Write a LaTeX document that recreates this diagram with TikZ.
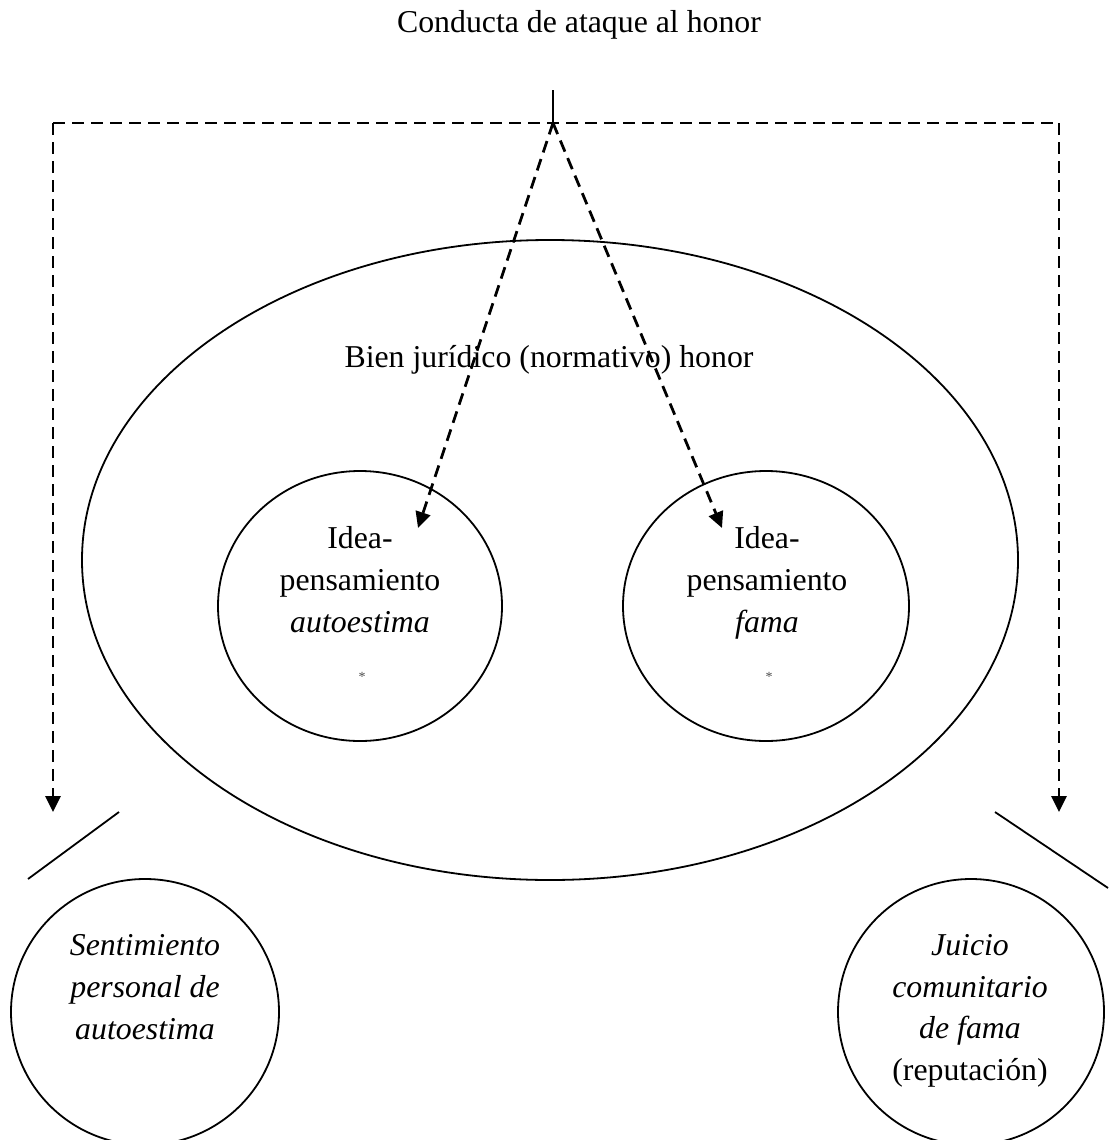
\documentclass[tikz,border=0pt]{standalone}
\usepackage{fontspec}
\setmainfont{Liberation Serif}
\usetikzlibrary{arrows.meta,shapes.geometric}
\tikzset{
  txt/.style={anchor=base, inner sep=0pt, font=\fontsize{31.8}{42}\selectfont},
  itxt/.style={txt, font=\fontsize{31.8}{42}\selectfont\itshape},
  starmark/.style={anchor=center, inner sep=0pt, text=black!70, font=\fontsize{14}{16}\selectfont},
  ovl/.style={draw, line width=1.8pt, inner sep=0pt, ellipse},
  dashln/.style={line width=2.8pt, dash pattern=on 12pt off 7pt},
  arr/.style={-{Triangle[length=16pt,width=15pt]}},
  solidln/.style={line width=1.8pt}
}
\begin{document}
\begin{tikzpicture}[x=1pt,y=-1pt]
\useasboundingbox (0,0) rectangle (1109,1140);
% title
\node[txt] (title) at (579,33) {Conducta de ataque al honor};
% coordinates
\coordinate (vtop) at (553,90);
\coordinate (hub) at (553,123);
\coordinate (cl) at (53,123);
\coordinate (cr) at (1059,123);
\coordinate (al) at (53,812);
\coordinate (ar) at (1059,812);
\coordinate (tipL) at (418,528);
\coordinate (tipR) at (722,528);
% big ellipse
\node[ovl, minimum width=936pt, minimum height=640pt] (big) at (550,560) {};
% small circles
\node[ovl, minimum width=284pt, minimum height=270pt] (sl) at (360,606) {};
\node[ovl, minimum width=286pt, minimum height=270pt] (sr) at (766,606) {};
% bottom circles
\node[ovl, minimum width=268pt, minimum height=266pt] (bl) at (145,1012) {};
\node[ovl, minimum width=266pt, minimum height=266pt] (br) at (971,1012) {};
% texts
\node[txt] (bien) at (549,367) {Bien jurídico (normativo) honor};
\node[txt] (l1) at (360,548) {Idea-};
\node[txt] (l2) at (360,590) {pensamiento};
\node[itxt] (l3) at (360,632) {autoestima};
\node[starmark] (l4) at (362,677) {*};
\node[txt] (r1) at (767,548) {Idea-};
\node[txt] (r2) at (767,590) {pensamiento};
\node[itxt] (r3) at (767,632) {fama};
\node[starmark] (r4) at (769,677) {*};
\node[itxt] (b1) at (145,955) {Sentimiento};
\node[itxt] (b2) at (145,997) {personal de};
\node[itxt] (b3) at (145,1039) {autoestima};
\node[itxt] (c1) at (970,955) {Juicio};
\node[itxt] (c2) at (970,997) {comunitario};
\node[itxt] (c3) at (970,1038) {de fama};
\node[txt] (c4) at (970,1080) {(reputación)};
% connectors
\draw[solidln] (vtop) -- (hub);
\draw[dashln] (cl) -- (cr);
\draw[dashln, arr] (cl) -- (al);
\draw[dashln, arr] (cr) -- (ar);
\draw[dashln, arr] (hub) -- (tipL);
\draw[dashln, arr] (hub) -- (tipR);
\coordinate (sL1) at (119,812);
\coordinate (sL2) at (28,879);
\coordinate (sR1) at (995,812);
\coordinate (sR2) at (1108,888);
\draw[solidln] (sL1) -- (sL2);
\draw[solidln] (sR1) -- (sR2);
\end{tikzpicture}
\end{document}
